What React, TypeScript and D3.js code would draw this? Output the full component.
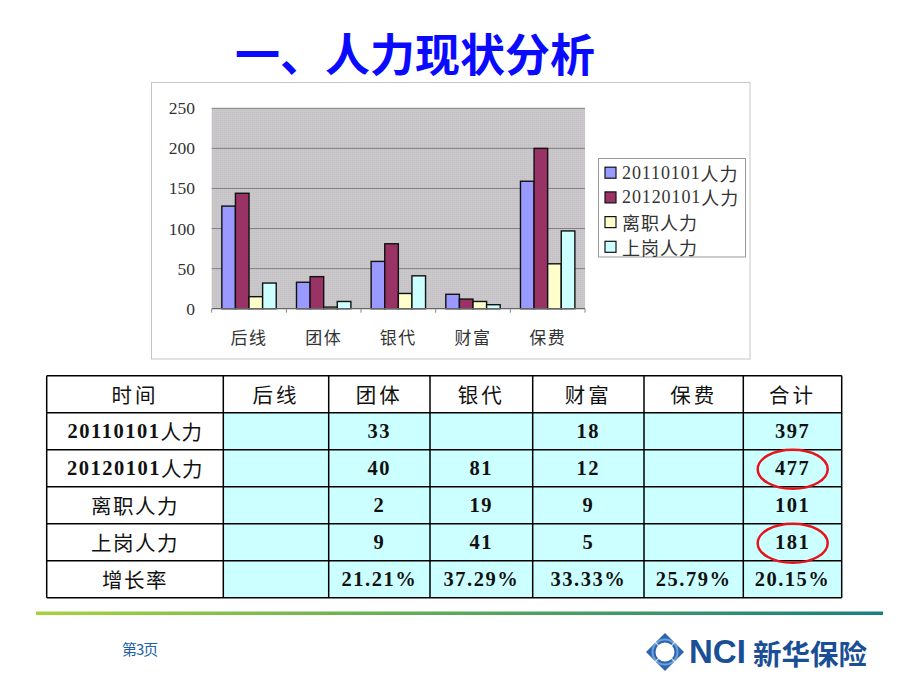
import React from 'react';
import * as d3 from 'd3';

const categories = ['后线', '团体', '银代', '财富', '保费'];
const seriesNames = ['20110101人力', '20120101人力', '离职人力', '上岗人力'];
const staff2011 = [128, 33, 59, 18, 159];
const staff2012 = [144, 40, 81, 12, 200];
const leaving = [15, 2, 19, 9, 56];
const onboard = [32, 9, 41, 5, 97];
const seriesColors = ['#9999ff', '#993366', '#ffffcc', '#ccffff'];
const yTicks = [0, 50, 100, 150, 200, 250];

const tableHeader = ['时间', '后线', '团体', '银代', '财富', '保费', '合计'];
const rowLabels = ['20110101人力', '20120101人力', '离职人力', '上岗人力', '增长率'];
const col后线 = ['', '', '', '', ''];
const col团体 = ['33', '40', '2', '9', '21.21%'];
const col银代 = ['', '81', '19', '41', '37.29%'];
const col财富 = ['18', '12', '9', '5', '33.33%'];
const col保费 = ['', '', '', '', '25.79%'];
const col合计 = ['397', '477', '101', '181', '20.15%'];
const circledRows = [1, 3];

const allSeries = [staff2011, staff2012, leaving, onboard];

const cjk = '"Noto Sans CJK SC", sans-serif';
const serifFont = '"Liberation Serif", serif';

function MixedText(props: { s: string; digitWeight?: string; cjkWeight?: string; digitSpacing?: number; cjkSpacing?: number }) {
  const parts = props.s.match(/[0-9.%]+|[^0-9.%]+/g) || [];
  return (
    <>
      {parts.map((p, i) => {
        const isNum = /^[0-9.%]+$/.test(p);
        return (
          <tspan key={i} fontFamily={isNum ? serifFont : cjk} fontWeight={isNum ? (props.digitWeight || 'bold') : (props.cjkWeight || 'normal')}
            letterSpacing={isNum ? (props.digitSpacing ?? 1) : (props.cjkSpacing ?? 1)}>{p}</tspan>
        );
      })}
    </>
  );
}

export default function App() {
  const plotL = 211.7, plotR = 585, plotT = 108.3, plotB = 308.7;
  const y = d3.scaleLinear().domain([0, 250]).range([plotB, plotT]);
  const x = d3.scaleBand<string>().domain(categories).range([plotL, plotR]).paddingInner(0.2714).paddingOuter(0.1357);
  const xi = d3.scaleBand<number>().domain([0, 1, 2, 3]).range([0, x.bandwidth()]).padding(0);
  const step = x.step();

  const colX = [46.7, 223.3, 328.7, 430, 532.7, 644, 743.3, 841.7];
  const rowY = d3.range(7).map(i => 375.7 + i * 37);
  const columns = [rowLabels, col后线, col团体, col银代, col财富, col保费, col合计];

  return (
    <svg width={920} height={690} style={{ position: 'absolute', left: 0, top: 0, background: '#fff' }}>
      <defs>
        <linearGradient id="footGrad" x1="0" x2="1" y1="0" y2="0">
          <stop offset="0" stopColor="#a6d23e" />
          <stop offset="0.5" stopColor="#5aa85a" />
          <stop offset="1" stopColor="#1a7f80" />
        </linearGradient>
        <pattern id="dots" width="2" height="2" patternUnits="userSpaceOnUse">
          <rect width="2" height="2" fill="#c8c5c8" />
          <rect width="1" height="1" fill="#c2c4c2" />
          <rect x="1" y="1" width="1" height="1" fill="#d0c9cf" />
        </pattern>
      </defs>

      {/* Title */}
      <text x={415} y={52} textAnchor="middle" dominantBaseline="central" fontFamily={cjk} fontWeight="bold" fontSize={45} fill="#0a0aff">一、人力现状分析</text>

      {/* Chart frame */}
      <rect x={151.5} y={82.5} width={598.5} height={276.5} fill="#fff" stroke="#c4c8c4" strokeWidth={1} />
      <rect x={plotL} y={plotT} width={plotR - plotL} height={plotB - plotT} fill="url(#dots)" />
      {yTicks.filter(t => t > 0).map(t => (
        <line key={t} x1={plotL} x2={plotR} y1={y(t)} y2={y(t)} stroke="#7f7f7f" strokeWidth={1} />
      ))}
      {yTicks.map(t => (
        <text key={'yl' + t} x={195} y={y(t)} textAnchor="end" dominantBaseline="central" fontFamily={serifFont} fontSize={17.5} fill="#333">{t}</text>
      ))}

      {/* Bars */}
      {categories.map((c, ci) => (
        <g key={c} transform={`translate(${x(c)},0)`}>
          {allSeries.map((s, si) => (
            <rect key={si} x={xi(si)} y={y(s[ci])} width={xi.bandwidth()} height={plotB - y(s[ci])}
              fill={seriesColors[si]} stroke="#111" strokeWidth={1.4} />
          ))}
        </g>
      ))}
      <line x1={plotL} x2={plotR} y1={plotB} y2={plotB} stroke="#666" strokeWidth={1.2} />
      {d3.range(categories.length + 1).map(i => (
        <line key={'tk' + i} x1={plotL + i * step} x2={plotL + i * step} y1={plotB} y2={plotB + 4} stroke="#888" strokeWidth={1} />
      ))}
      {categories.map(c => (
        <text key={'xl' + c} x={(x(c) as number) + x.bandwidth() / 2} y={336.5} textAnchor="middle" dominantBaseline="central" fontFamily={cjk} fontSize={17} letterSpacing={1.5} fill="#333">{c}</text>
      ))}

      {/* Legend */}
      <rect x={598.5} y={158.5} width={147} height={98.5} fill="#fff" stroke="#999" strokeWidth={1} />
      {seriesNames.map((n, i) => (
        <g key={n} transform={`translate(0,${172.7 + i * 24.7})`}>
          <rect x={605} y={-5.5} width={11} height={11} fill={seriesColors[i]} stroke="#111" strokeWidth={1.2} />
          <text x={622} y={0} dominantBaseline="central" fontSize={18} fill="#333">
            <MixedText s={n} digitWeight="normal" digitSpacing={0.9} cjkSpacing={1} />
          </text>
        </g>
      ))}

      {/* Table */}
      {columns.map((col, ci) => (
        <g key={'col' + ci}>
          <rect x={colX[ci]} y={rowY[0]} width={colX[ci + 1] - colX[ci]} height={rowY[1] - rowY[0]} fill="#fff" />
          <text x={(colX[ci] + colX[ci + 1]) / 2} y={(rowY[0] + rowY[1]) / 2} textAnchor="middle" dominantBaseline="central" fontSize={20.5} fill="#111">
            <MixedText s={tableHeader[ci]} cjkSpacing={3} />
          </text>
          {col.map((v, ri) => (
            <g key={ri}>
              <rect x={colX[ci]} y={rowY[ri + 1]} width={colX[ci + 1] - colX[ci]} height={rowY[ri + 2] - rowY[ri + 1]} fill={ci === 0 ? '#fff' : '#ccffff'} />
              <text x={(colX[ci] + colX[ci + 1]) / 2} y={(rowY[ri + 1] + rowY[ri + 2]) / 2} textAnchor="middle" dominantBaseline="central" fontSize={20.5} fill="#111">
                <MixedText s={v} digitSpacing={1.5} cjkSpacing={ci === 0 && ri >= 2 ? 1.5 : 0.5} />
              </text>
            </g>
          ))}
        </g>
      ))}
      {rowY.map((ry, i) => (
        <line key={'hr' + i} x1={colX[0]} x2={colX[colX.length - 1]} y1={ry} y2={ry} stroke="#000" strokeWidth={1.5} />
      ))}
      {colX.map((cx, i) => (
        <line key={'vr' + i} x1={cx} x2={cx} y1={rowY[0]} y2={rowY[rowY.length - 1]} stroke="#000" strokeWidth={1.5} />
      ))}
      {circledRows.map(r => (
        <ellipse key={'c' + r} cx={792.7} cy={(rowY[r + 1] + rowY[r + 2]) / 2 + 1} rx={35} ry={19.5} fill="none" stroke="#e8141c" strokeWidth={2.5} />
      ))}

      {/* Footer */}
      <rect x={36} y={611.5} width={847} height={3.5} fill="url(#footGrad)" />
      <text x={122} y={648} dominantBaseline="central" fontFamily={cjk} fontSize={15} fill="#2060a8" letterSpacing={-1}>第3页</text>
      <g>
        <path d="M665,633 L684,652 L665,671 L646,652 Z" fill="#2a66b0" />
        <circle cx={665} cy={652} r={9.5} fill="#fff" />
        <circle cx={665} cy={652} r={12.5} fill="none" stroke="#6fa0d8" strokeWidth={2} />
        <line x1={650} y1={637} x2={680} y2={667} stroke="#fff" strokeWidth={1.2} opacity={0.7} />
        <line x1={680} y1={637} x2={650} y2={667} stroke="#fff" strokeWidth={1.2} opacity={0.7} />
      </g>
      <text x={689} y={663} fontFamily='"Liberation Sans", Arial, sans-serif' fontWeight="bold" fontSize={33} fill="#1a4f96">NCI</text>
      <text x={753} y={652} dominantBaseline="central" fontFamily={cjk} fontWeight="bold" fontSize={28.5} fill="#1a4f96">新华保险</text>
    </svg>
  );
}
